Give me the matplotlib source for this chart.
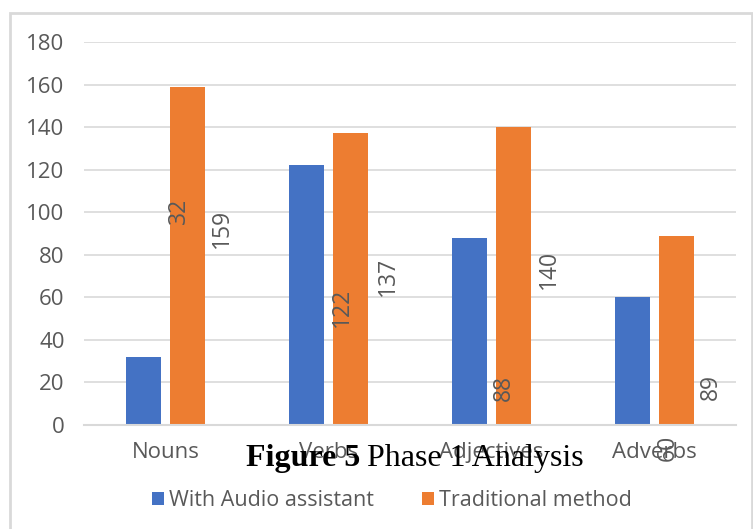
import matplotlib
matplotlib.use("Agg")
import matplotlib.pyplot as plt
from matplotlib.patches import Rectangle
import numpy as np

categories = ["Nouns", "Verbs", "Adjectives", "Adverbs"]
audio_values = [32, 122, 88, 60]
traditional_values = [159, 137, 140, 89]
series_names = ["With Audio assistant", "Traditional method"]
y_ticks = [0, 20, 40, 60, 80, 100, 120, 140, 160, 180]

# label placement (layout, in data coordinates) as seen in the reference
audio_label_dx = [0.083, 0.080, 0.077, 0.080]
audio_label_y = [100.6, 55.5, 17.4, -10.8]
trad_label_dx = [0.347, 0.362, 0.353, 0.347]
trad_label_y = [92.6, 70.0, 73.3, 17.9]

BLUE = "#4472C4"
ORANGE = "#ED7D31"
TXT = "#595959"
GRID = "#D9D9D9"
FONT = "Open Sans"

fig = plt.figure(figsize=(7.53, 5.29), dpi=100)
ax = fig.add_axes([84/753, 1-425/529, (736-84)/753, (425-42)/529])

x = np.arange(len(categories))
w = 0.215
off = 0.135
ax.bar(x - off, audio_values, width=w, color=BLUE, zorder=3, label=series_names[0])
ax.bar(x + off, traditional_values, width=w, color=ORANGE, zorder=3, label=series_names[1])

ax.set_xlim(-0.5, len(categories) - 0.5)
ax.set_ylim(0, 180)
ax.set_yticks(y_ticks)
ax.set_yticklabels([str(v) for v in y_ticks], fontsize=16, color=TXT, family=FONT)
ax.set_xticks(x)
ax.set_xticklabels(categories, fontsize=16, color=TXT, family=FONT)
ax.tick_params(axis="both", length=0)
ax.tick_params(axis="x", pad=12)
ax.tick_params(axis="y", pad=14)
ax.yaxis.grid(True, color=GRID, lw=1.2, zorder=0)
for s in ["top", "right", "left"]:
    ax.spines[s].set_visible(False)
ax.spines["bottom"].set_color(GRID)
ax.spines["bottom"].set_linewidth(1.5)
ax.spines["bottom"].set_zorder(4)

for i in range(len(categories)):
    ax.text(i + audio_label_dx[i], audio_label_y[i], str(audio_values[i]), rotation=90,
            ha="center", va="center", fontsize=16.5, color=TXT, family=FONT, zorder=5)
    ax.text(i + trad_label_dx[i], trad_label_y[i], str(traditional_values[i]), rotation=90,
            ha="center", va="center", fontsize=16.5, color=TXT, family=FONT, zorder=5)

leg = fig.legend(loc="center", bbox_to_anchor=(392/753, 1-501/529), ncol=2,
                 frameon=False, handlelength=0.55, handleheight=0.55,
                 handletextpad=0.25, columnspacing=2.2,
                 prop={"family": FONT, "size": 15.5})
for t in leg.get_texts():
    t.set_color(TXT)

# caption
cap = fig.text(246/753, 1-466/529, "Figure 5", fontsize=23, fontweight="bold",
               family="Liberation Serif", color="black", ha="left", va="baseline", zorder=10)
fig.canvas.draw()
bb = cap.get_window_extent()
fig.text((bb.x1 + 7)/753, 1-466/529, "Phase 1 Analysis", fontsize=23,
         family="Liberation Serif", color="black", ha="left", va="baseline", zorder=10)

# chart-area border
fig.add_artist(Rectangle((10/753, -0.05), (752-10)/753, (1-13/529) + 0.05,
                         transform=fig.transFigure, fill=False, ec=GRID, lw=2))

fig.savefig("out.png", dpi=100)
